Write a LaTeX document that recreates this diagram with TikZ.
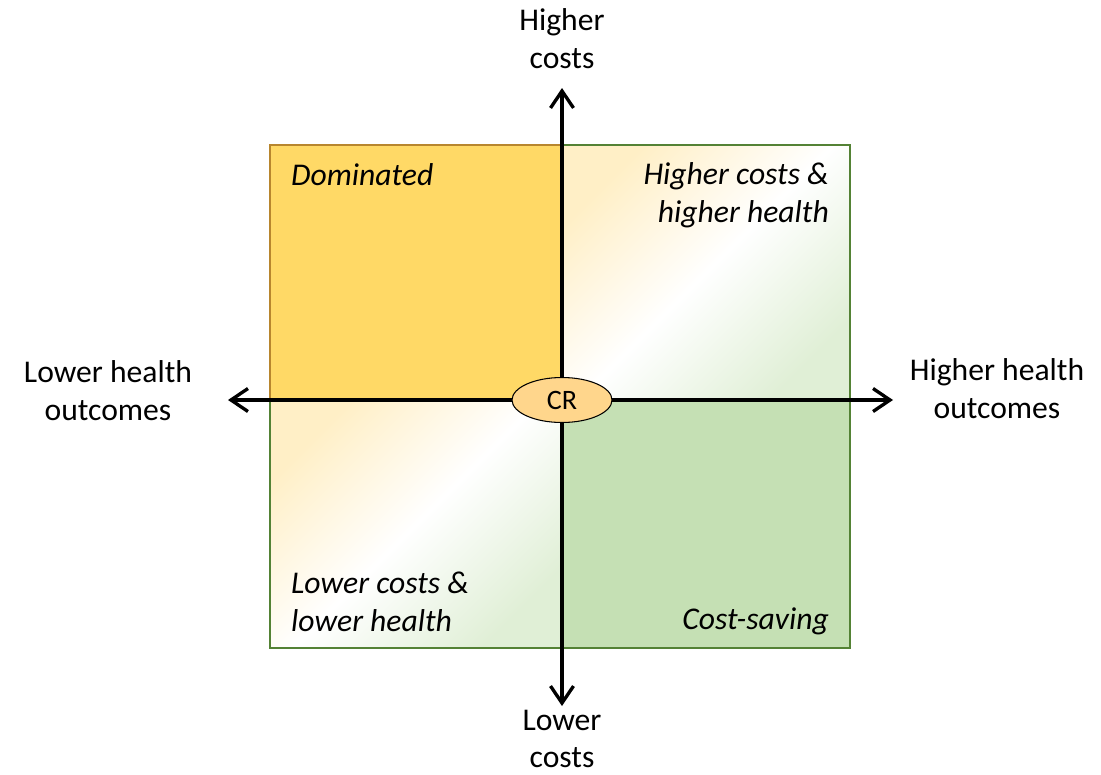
\documentclass[tikz,border=0pt]{standalone}
\usepackage{fontspec}
\setmainfont{Carlito}
\usetikzlibrary{arrows.meta, positioning, shapes.geometric}

\definecolor{domfill}{HTML}{FFD966}
\definecolor{domline}{HTML}{B8862E}
\definecolor{savefill}{HTML}{C5E0B4}
\definecolor{boxline}{HTML}{548235}
\definecolor{lightorange}{HTML}{FFEFC6}
\definecolor{lightgreen}{HTML}{E0EFD6}
\definecolor{crfill}{HTML}{FFD68C}

\tikzset{
    axislabel/.style={align=center, inner sep=0pt, font=\fontsize{18}{21.5}\selectfont},
    quadlabel/.style={font=\fontsize{18}{21.5}\selectfont\itshape},
    axis/.style={line width=1.9pt, {Straight Barb[length=3.4mm, width=4.6mm]}-{Straight Barb[length=3.4mm, width=4.6mm]}},
    mixed/.style={top color=lightorange, bottom color=lightgreen, middle color=white, shading angle=45},
    origin/.style={draw, line width=0.6pt, fill=crfill, ellipse, minimum width=2cm, minimum height=0.9cm, inner sep=0pt, font=\fontsize{16}{18}\selectfont}
}

\begin{document}
\begin{tikzpicture}[x=0.02cm, y=-0.02cm]
        \useasboundingbox (0,0) rectangle (1101,774);

        % Quadrants
        \shade[mixed] (562,145) rectangle (850,400);
        \shade[mixed] (270,400) rectangle (562,648);
        \fill[savefill] (562,400) rectangle (850,648);
        \draw[boxline, line width=0.6pt] (270,145) rectangle (850,648);
        \draw[domline, line width=0.6pt, fill=domfill] (270,145) rectangle (562,400);

        % Axis ends
        \coordinate (top) at (562,88);
        \coordinate (bottom) at (562,706);
        \coordinate (left) at (228,400);
        \coordinate (right) at (893,400);

        % Axes
        \draw[axis] (bottom) -- (top);
        \draw[axis] (left) -- (right);

        % Origin
        \node[origin] (cr) at (562,400) {CR};

        % Axis labels
        \node[axislabel] (highcost) at (562,39) {Higher\\costs};
        \node[axislabel] (lowcost) at (562,739) {Lower\\costs};
        \node[axislabel] (lowhealth) at (108,391) {Lower health\\outcomes};
        \node[axislabel] (highhealth) at (997,389) {Higher health\\outcomes};

        % Quadrant labels
        \node[quadlabel, anchor=west] (dom) at (285,175) {Dominated};
        \node[quadlabel, anchor=east, align=right] (hh) at (835,195) {Higher costs \&\\higher health};
        \node[quadlabel, anchor=west, align=left] (ll) at (285,602) {Lower costs \&\\lower health};
        \node[quadlabel, anchor=east] (save) at (835,621) {Cost-saving};

\end{tikzpicture}
\end{document}
